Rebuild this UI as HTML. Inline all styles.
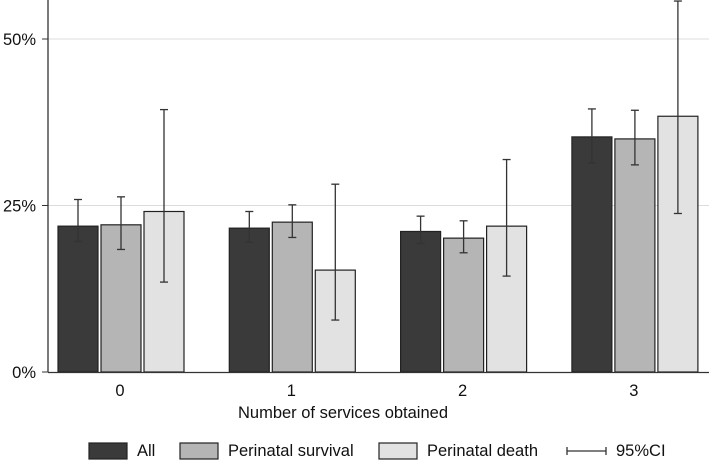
<!DOCTYPE html>
<html><head><meta charset="utf-8"><style>
body{margin:0;background:#fff}
svg{display:block;font-family:"Liberation Sans",Arial,sans-serif}
</style></head><body>
<svg id="chart" width="709" height="460" viewBox="0 0 709 460"></svg>
<script>
const categories=["0","1","2","3"];
const seriesNames=["All","Perinatal survival","Perinatal death"];
const allVals=[21.9,21.6,21.1,35.3];
const allLo=[19.6,19.5,19.3,31.4];
const allHi=[25.9,24.1,23.4,39.5];
const survVals=[22.1,22.5,20.1,35.0];
const survLo=[18.4,20.2,17.9,31.1];
const survHi=[26.3,25.1,22.7,39.3];
const deathVals=[24.1,15.3,21.9,38.4];
const deathLo=[13.5,7.8,14.4,23.8];
const deathHi=[39.4,28.2,31.9,55.7];
const yTicks=[0,25,50];

const svg=document.getElementById('chart');
const NS='http://www.w3.org/2000/svg';
function mk(t,a,p){const e=document.createElementNS(NS,t);for(const k in a)e.setAttribute(k,a[k]);(p||svg).appendChild(e);return e;}
const y0=372,pxPer=(372-39)/50;
const y=v=>y0-v*pxPer;
const gx=i=>120+i*171.3;
const colors=["#3a3a3a","#b5b5b5","#e2e2e2"];
const vals=[allVals,survVals,deathVals],los=[allLo,survLo,deathLo],his=[allHi,survHi,deathHi];
const FS=16.5;

yTicks.forEach(t=>{
  if(t>0){const g=mk('line',{x1:48,x2:709,y1:y(t),y2:y(t),stroke:'#dcdcdc','stroke-width':1});
  
  }
  const tk=mk('line',{x1:42,x2:48,y1:y(t),y2:y(t),stroke:'#333'});
  
  
  const tx=mk('text',{x:36,y:y(t)+6,'text-anchor':'end','font-size':FS,fill:'#111'});
  tx.textContent=t+'%';
  
  
});

categories.forEach((c,i)=>{
  for(let s=0;s<3;s++){
    const x=gx(i)-62+s*43;
    const r=mk('rect',{x:x,y:y(vals[s][i]),width:40,height:y0-y(vals[s][i]),fill:colors[s],stroke:'#222','stroke-width':1.2});
    
    
    const cx=x+20,g=mk('g',{stroke:'#333','stroke-width':1.3});
    
    
    mk('line',{x1:cx,x2:cx,y1:y(his[s][i]),y2:y(los[s][i])},g);
    mk('line',{x1:cx-4,x2:cx+4,y1:y(his[s][i]),y2:y(his[s][i])},g);
    mk('line',{x1:cx-4,x2:cx+4,y1:y(los[s][i]),y2:y(los[s][i])},g);
  }
  const t=mk('text',{x:gx(i),y:396,'text-anchor':'middle','font-size':FS,fill:'#111'});
  t.textContent=c;
  
  
});

const ax=mk('line',{x1:48,x2:48,y1:0,y2:372.5,stroke:'#333','stroke-width':1.3});


const bx=mk('line',{x1:48,x2:709,y1:372.5,y2:372.5,stroke:'#333','stroke-width':1.3});



const xt=mk('text',{x:343,y:418,'text-anchor':'middle','font-size':FS,fill:'#111'});
xt.textContent='Number of services obtained';



const legX=[89,180,379];
seriesNames.forEach((n,s)=>{
  const g=mk('g',{});
  
  
  mk('rect',{x:legX[s],y:443,width:38,height:16,fill:colors[s],stroke:'#222','stroke-width':1.2},g);
  const t=mk('text',{x:legX[s]+48,y:456,'font-size':FS,fill:'#111'},g);
  t.textContent=n;
});
const cg=mk('g',{stroke:'#333','stroke-width':1.3});


mk('line',{x1:567,x2:606,y1:451,y2:451},cg);
mk('line',{x1:567,x2:567,y1:447,y2:455},cg);
mk('line',{x1:606,x2:606,y1:447,y2:455},cg);
const ct=mk('text',{x:616,y:456,'font-size':FS,fill:'#111',stroke:'none'});
ct.textContent='95%CI';


</script>
</body></html>
